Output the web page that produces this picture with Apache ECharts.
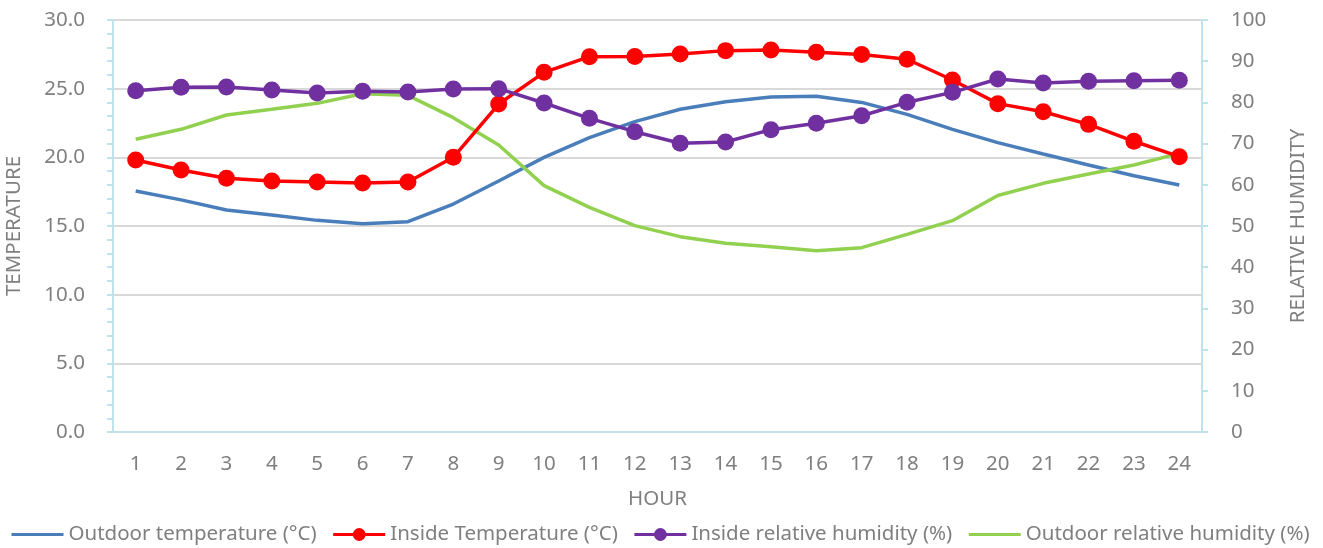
<!DOCTYPE html>
<html>
<head>
<meta charset="utf-8">
<script src="https://cdn.jsdelivr.net/npm/echarts@6/dist/echarts.min.js"></script>
<style>html,body{margin:0;padding:0;background:#fff}#c{width:1323px;height:548px}</style>
</head>
<body>
<div id="c"></div>
<script>
const hours = ['1','2','3','4','5','6','7','8','9','10','11','12','13','14','15','16','17','18','19','20','21','22','23','24'];
const outdoorTemp = [17.55,16.9,16.17,15.8,15.41,15.17,15.31,16.6,18.28,20.0,21.43,22.6,23.5,24.05,24.39,24.44,24.0,23.13,22.04,21.07,20.24,19.44,18.66,17.99];
const insideTemp = [19.8,19.08,18.47,18.28,18.2,18.13,18.2,20.0,23.88,26.19,27.33,27.35,27.52,27.77,27.82,27.65,27.48,27.14,25.63,23.91,23.32,22.4,21.17,20.05];
const insideRH = [82.85,83.66,83.74,83.0,82.28,82.69,82.52,83.25,83.33,79.85,76.13,72.89,70.07,70.39,73.38,74.92,76.77,80.02,82.44,85.68,84.71,85.11,85.27,85.36];
const outdoorRH = [71.04,73.47,76.94,78.32,79.77,82.12,81.72,76.3,69.66,59.8,54.53,50.08,47.41,45.8,44.98,44.01,44.74,47.98,51.29,57.4,60.36,62.6,64.8,67.64];
const seriesNames = ['Outdoor temperature (°C)','Inside Temperature (°C)','Inside relative humidity (%)','Outdoor relative humidity (%)'];

const FONT = 'Noto Sans';
const GRAY = '#7f7f7f';
const AX = '#bfe3ec';
const chart = echarts.init(document.getElementById('c'), null, {renderer:'canvas'});
chart.setOption({
  animation: false,
  textStyle: {fontFamily: FONT},
  grid: {left: 113, right: 121, top: 20, bottom: 116, show: true, borderColor: AX, borderWidth: 2, backgroundColor: 'transparent', containLabel: false, outerBoundsMode: 'none'},
  legend: {
    top: 524, left: 10, right: 0, padding: 0, itemWidth: 52, itemHeight: 16, itemGap: 15,
    textStyle: {color: GRAY, fontSize: 20.5, fontFamily: FONT},
    data: [
      {name: seriesNames[0], itemStyle: {opacity: 0}, lineStyle: {width: 3}},
      {name: seriesNames[1], lineStyle: {width: 3}},
      {name: seriesNames[2], lineStyle: {width: 3}},
      {name: seriesNames[3], itemStyle: {opacity: 0}, lineStyle: {width: 3}}
    ]
  },
  xAxis: {
    type: 'category', data: hours, boundaryGap: true,
    name: 'HOUR', nameLocation: 'middle', nameGap: 57,
    nameTextStyle: {color: GRAY, fontSize: 20.5, fontFamily: FONT},
    axisLine: {lineStyle: {color: AX, width: 2}},
    axisTick: {alignWithLabel: true, length: 6, lineStyle: {color: AX, width: 2}},
    axisLabel: {color: GRAY, fontSize: 20.5, margin: 22, fontFamily: FONT},
    splitLine: {show: false}
  },
  yAxis: [{
    type: 'value', min: 0, max: 30, interval: 5,
    name: 'TEMPERATURE', nameLocation: 'middle', nameGap: 88, nameRotate: 90,
    nameTextStyle: {color: GRAY, fontSize: 20.5, fontFamily: FONT},
    axisLine: {show: true, lineStyle: {color: AX, width: 2}},
    axisTick: {show: true, length: 6, lineStyle: {color: AX, width: 2}},
    minorTick: {show: true, splitNumber: 5, length: 6, lineStyle: {color: AX, width: 2}},
    axisLabel: {color: GRAY, fontSize: 20.5, margin: 28, fontFamily: FONT, formatter: v => v.toFixed(1)},
    splitLine: {show: true, lineStyle: {color: '#d9d9d9', width: 2}}
  },{
    type: 'value', min: 0, max: 100, interval: 10, position: 'right',
    name: 'RELATIVE HUMIDITY', nameLocation: 'middle', nameGap: 86, nameRotate: 90,
    nameTextStyle: {color: GRAY, fontSize: 20.5, fontFamily: FONT},
    axisLine: {show: true, lineStyle: {color: AX, width: 2}},
    axisTick: {show: true, length: 6, lineStyle: {color: AX, width: 2}},
    axisLabel: {color: GRAY, fontSize: 20.5, margin: 29, fontFamily: FONT},
    splitLine: {show: false}
  }],
  series: [
    {name: seriesNames[0], type: 'line', yAxisIndex: 0, data: outdoorTemp, symbol: 'none', lineStyle: {color: '#4a7ebb', width: 3.5}, itemStyle: {color: '#4a7ebb'}, z: 2},
    {name: seriesNames[1], type: 'line', yAxisIndex: 0, data: insideTemp, symbol: 'circle', symbolSize: 17, lineStyle: {color: '#ff0000', width: 3.5}, itemStyle: {color: '#ff0000'}, z: 4},
    {name: seriesNames[2], type: 'line', yAxisIndex: 1, data: insideRH, symbol: 'circle', symbolSize: 17, lineStyle: {color: '#7030a0', width: 3.5}, itemStyle: {color: '#7030a0'}, z: 5},
    {name: seriesNames[3], type: 'line', yAxisIndex: 1, data: outdoorRH, symbol: 'none', lineStyle: {color: '#92d050', width: 3.5}, itemStyle: {color: '#92d050'}, z: 3}
  ]
});
</script>
</body>
</html>
